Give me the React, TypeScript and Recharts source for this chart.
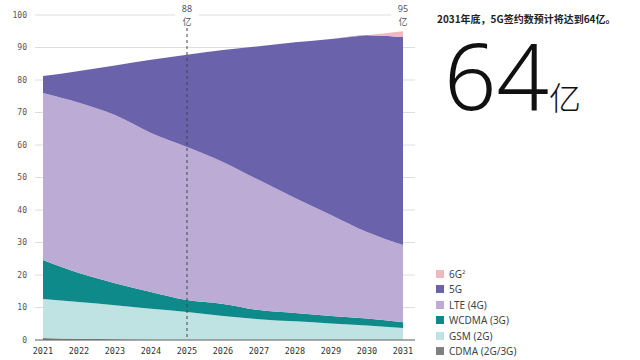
import React from "react";
import {
  Area,
  AreaChart,
  CartesianGrid,
  ReferenceLine,
  XAxis,
  YAxis,
} from "recharts";

const years = ["2021", "2022", "2023", "2024", "2025", "2026", "2027", "2028", "2029", "2030", "2031"];
const cdma = [0.6, 0.35, 0.2, 0.1, 0.05, 0, 0, 0, 0, 0, 0];
const gsm = [12.0, 11.35, 10.5, 9.5, 8.55, 7.4, 6.4, 5.75, 5.1, 4.5, 3.7];
const wcdma = [12.0, 8.9, 6.8, 5.2, 3.7, 3.7, 2.8, 2.55, 2.3, 2.1, 1.8];
const lte = [51.4, 52.4, 51.7, 48.9, 47.1, 43.7, 40.0, 35.4, 31.1, 26.6, 23.7];
const nr5g = [5.2, 9.8, 15.3, 22.5, 28.4, 34.4, 41.2, 47.9, 54.1, 60.6, 64.0];
const g6 = [0, 0, 0, 0, 0, 0, 0, 0, 0, 0, 1.8];
const yTicks = [0, 10, 20, 30, 40, 50, 60, 70, 80, 90, 100];

const series = [
  { key: "cdma", name: "CDMA (2G/3G)", values: cdma, color: "#808080" },
  { key: "gsm", name: "GSM (2G)", values: gsm, color: "#bee3e2" },
  { key: "wcdma", name: "WCDMA (3G)", values: wcdma, color: "#0f8a8b" },
  { key: "lte", name: "LTE (4G)", values: lte, color: "#bcabd5" },
  { key: "g5", name: "5G", values: nr5g, color: "#6a62ab" },
  { key: "g6", name: "6G", values: g6, color: "#f0b8c0" },
];

const data = years.map((year, i) => {
  const row: Record<string, string | number> = { year };
  series.forEach((s) => (row[s.key] = s.values[i]));
  return row;
});

const mono = "'DejaVu Sans Mono', monospace";

// total label above a year: number on top, 亿 below, white box cuts the gridline
const TopLabel = (value: string) => (props: any) => {
  const x = props.viewBox.x;
  return (
    <g>
      <rect x={x - 12} y={2} width={24} height={24} fill="#fff" />
      <text x={x} y={12} textAnchor="middle" fontSize={9} fill="#555" fontFamily="'Noto Sans', sans-serif">
        {value}
      </text>
      <text x={x} y={25} textAnchor="middle" fontSize={9} fill="#555" fontFamily="'Noto Sans CJK SC', sans-serif">
        亿
      </text>
    </g>
  );
};

export default function App() {
  return (
    <div style={{ position: "absolute", left: 0, top: 0, width: 640, height: 360, background: "#fff" }}>
      <AreaChart
        width={640}
        height={360}
        data={data}
        margin={{ top: 15, right: 225, left: 0, bottom: 0 }}
      >
        <CartesianGrid vertical={false} stroke="#dedede" />
        <XAxis
          dataKey="year"
          padding={{ left: 8, right: 12 }}
          height={20}
          tickLine={false}
          axisLine={{ stroke: "#666" }}
          interval={0}
          tick={{ fontSize: 8.5, fill: "#333", fontFamily: mono }}
        />
        <YAxis
          width={35}
          domain={[0, 100]}
          ticks={yTicks}
          tickLine={false}
          axisLine={false}
          tick={{ fontSize: 8, fill: "#555", fontFamily: mono }}
        />
        {series.map((s) => (
          <Area
            key={s.key}
            type="monotone"
            dataKey={s.key}
            name={s.name}
            stackId="a"
            stroke="none"
            fill={s.color}
            fillOpacity={1}
            isAnimationActive={false}
          />
        ))}
        <ReferenceLine
          segment={[{ x: "2025", y: 96 }, { x: "2025", y: 0 }]}
          stroke="#444"
          strokeDasharray="3 3"
          label={TopLabel("88")}
        />
        <ReferenceLine
          segment={[{ x: "2031", y: 96 }, { x: "2031", y: 95.9 }]}
          stroke="none"
          label={TopLabel("95")}
        />
      </AreaChart>

      <div
        style={{
          position: "absolute",
          left: 436,
          top: 266,
          fontFamily: "'Noto Sans', sans-serif",
          fontSize: 10,
          color: "#444",
        }}
      >
        {[...series].reverse().map((s) => (
          <div key={s.key} style={{ display: "flex", alignItems: "center", height: 15.5 }}>
            <span style={{ width: 8, height: 8, background: s.color, display: "inline-block", marginRight: 5 }} />
            <span>
              {s.name}
              {s.key === "g6" ? <sup style={{ fontSize: 6 }}>2</sup> : null}
            </span>
          </div>
        ))}
      </div>

      <div
        style={{
          position: "absolute",
          left: 437,
          top: 12,
          fontFamily: "'Noto Sans CJK SC', sans-serif",
          fontWeight: 700,
          fontSize: 10,
          lineHeight: "14px",
          color: "#222",
          whiteSpace: "nowrap",
        }}
      >
        2031年底，5G签约数预计将达到64亿。
      </div>
      <div
        style={{
          position: "absolute",
          left: 444,
          top: 39,
          fontFamily: "'Noto Sans', sans-serif",
          fontWeight: 300,
          fontSize: 92,
          lineHeight: "72px",
          color: "#111",
          whiteSpace: "nowrap",
        }}
      >
        64
        <span style={{ fontFamily: "'Noto Sans CJK SC', sans-serif", fontWeight: 300, fontSize: 32 }}>亿</span>
      </div>
    </div>
  );
}
